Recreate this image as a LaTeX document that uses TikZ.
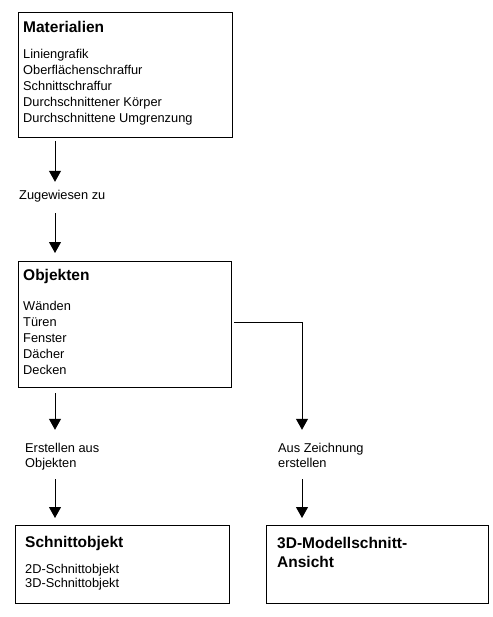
\documentclass[tikz,border=0pt]{standalone}
\usepackage{fontspec}
\setmainfont{Liberation Sans}
\usetikzlibrary{arrows.meta}
\tikzset{
  box/.style={draw, line width=1pt, rectangle, inner sep=0pt, anchor=north west},
  ttl/.style={inner sep=0pt, anchor=base west, font=\fontsize{15.5}{18}\selectfont\bfseries},
  body/.style={inner sep=0pt, anchor=base west, text height=9.5pt, text depth=3pt, font=\fontsize{12.8}{16}\selectfont},
  arr/.style={line width=1pt, -{Triangle[width=12pt,length=11pt]}},
}
\begin{document}
\begin{tikzpicture}[x=1pt,y=-1pt]
\useasboundingbox (0,0) rectangle (492,617);
% boxes
\node[box, minimum width=214pt, minimum height=125pt] (m) at (18,12) {};
\node[box, minimum width=213pt, minimum height=126pt] (o) at (18,261) {};
\node[box, minimum width=214pt, minimum height=78pt] (s) at (15,525) {};
\node[box, minimum width=222pt, minimum height=78pt] (d) at (266,525) {};
% Materialien
\node[ttl] (mt) at (23,33) {Materialien};
\foreach \t [count=\i] in {Liniengrafik, Oberflächenschraffur, Schnittschraffur, Durchschnittener Körper, Durchschnittene Umgrenzung}
  \node[body] (m\i) at (23,{43+16*\i}) {\t};
% Objekten
\node[ttl] (ot) at (23,280) {Objekten};
\foreach \t [count=\i] in {Wänden, Türen, Fenster, Dächer, Decken}
  \node[body] (o\i) at (23,{294+16*\i}) {\t};
% Schnittobjekt
\node[ttl] (st) at (25,547) {Schnittobjekt};
\node[body] (s1) at (25,573) {2D-Schnittobjekt};
\node[body] (s2) at (25,587) {3D-Schnittobjekt};
% 3D
\node[ttl] (dt1) at (277,548) {3D-Modellschnitt-};
\node[ttl] (dt2) at (277,567) {Ansicht};
% labels
\node[body] (z) at (19,200) {Zugewiesen zu};
\node[body] (e1) at (25,452) {Erstellen aus};
\node[body] (e2) at (25,467) {Objekten};
\node[body] (a1) at (278,452) {Aus Zeichnung};
\node[body] (a2) at (278,467) {erstellen};
% connectors
\coordinate (xl) at (55,0);
\coordinate (xr) at (302,0);
\draw[arr, shorten <=3pt, shorten >=8.5pt] (m.south -| xl) -- (z.north -| xl);
\draw[arr, shorten <=10pt, shorten >=8pt] (z.south -| xl) -- (o.north -| xl);
\draw[arr, shorten <=5pt, shorten >=12.5pt] (o.south -| xl) -- (e1.north -| xl);
\draw[arr, shorten <=2pt, shorten >=12.5pt] ([yshift=2pt]o.east) -| (a1.north -| xr);
\draw[arr, shorten <=9pt, shorten >=7pt] (e2.south -| xl) -- (s.north -| xl);
\draw[arr, shorten <=9pt, shorten >=7pt] (a2.south -| xr) -- (d.north -| xr);
\end{tikzpicture}
\end{document}
